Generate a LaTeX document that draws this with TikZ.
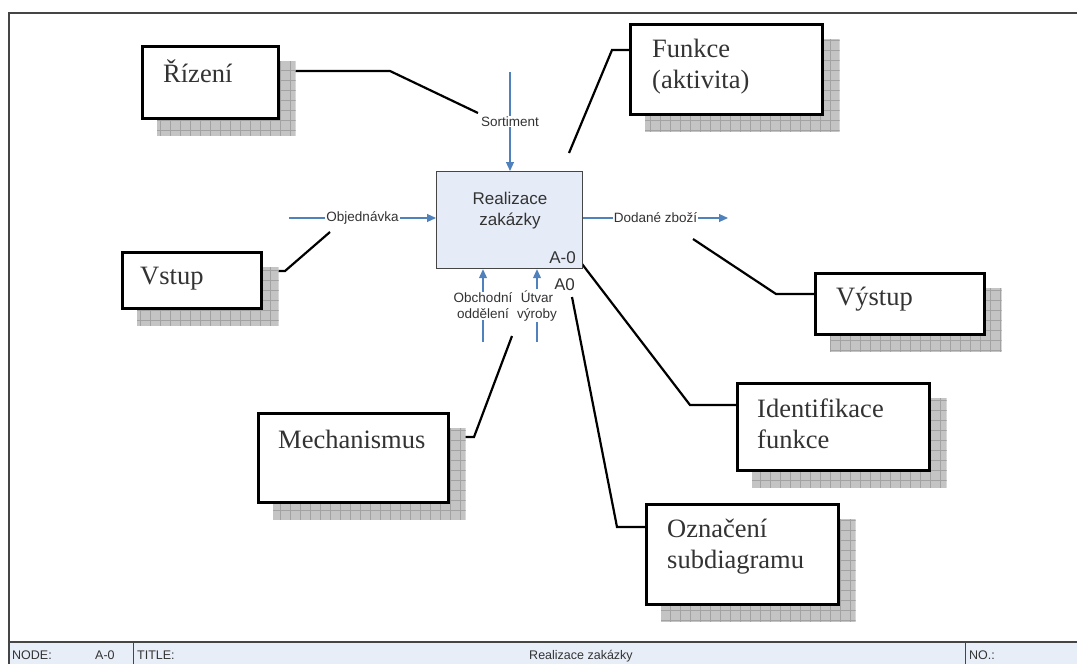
\documentclass[tikz,border=0pt]{standalone}
\usepackage{fontspec}
\setmainfont{Liberation Serif}
\setsansfont{Liberation Sans}
\usetikzlibrary{arrows.meta,calc,backgrounds}
\pgfdeclarelayer{leaders}
\pgfdeclarelayer{shade}
\pgfsetlayers{leaders,shade,main}

\definecolor{flowblue}{HTML}{4F81BD}
\definecolor{inkgray}{HTML}{333333}
\definecolor{actfill}{HTML}{E6ECF7}
\definecolor{barfill}{HTML}{E8EEF8}
\definecolor{framegray}{HTML}{454545}
\definecolor{shadefill}{HTML}{C4C4C4}
\definecolor{shadeline}{HTML}{A2A2A2}

% hatched drop shade behind a callout box
\newcommand\castshade[1]{%
  \begin{pgfonlayer}{shade}
    \begin{scope}
      \clip ($(#1.south west)+(16,16)$) rectangle ($(#1.north east)+(16,16)$);
      \fill[shadefill] ($(#1.south west)+(16,16)$) rectangle ($(#1.north east)+(16,16)$);
      \draw[shadeline, line width=0.5pt, step=10pt]
        ($(#1.south west)+(16,16)$) grid ($(#1.north east)+(16,16)$);
    \end{scope}
  \end{pgfonlayer}}

\begin{document}
\begin{tikzpicture}[x=1pt, y=-1pt,
  callbox/.style={draw=black, line width=2.6pt, fill=white, inner sep=0pt, anchor=north west},
  calltext/.style={anchor=base west, inner sep=0pt, align=left, text=inkgray,
                   font=\fontsize{26.5}{31}\selectfont},
  actbox/.style={draw=framegray, line width=1.2pt, fill=actfill, inner sep=0pt, anchor=north west},
  acttext/.style={inner sep=0pt, text=inkgray, font=\sffamily\fontsize{17}{21}\selectfont},
  flow/.style={draw=flowblue, line width=1.1pt, -{Triangle[length=9pt,width=8pt]}},
  flowlabel/.style={fill=white, inner sep=1pt, align=center, text=inkgray,
                    font=\sffamily\fontsize{13.5}{16}\selectfont},
  leader/.style={draw=black, line width=2.2pt},
  bartext/.style={inner sep=0pt, text=inkgray, font=\sffamily\fontsize{12.5}{14}\selectfont},
  frameline/.style={draw=framegray, line width=1.4pt}
]
\useasboundingbox (0,0) rectangle (1077,664);

% sheet frame and title bar
\fill[barfill] (9,642) rectangle (1077,664);
\draw[frameline] (9,664) -- (9,13) -- (1077,13);
\draw[framegray, line width=1.8pt] (9,642) -- (1077,642);
\draw[framegray, line width=1pt] (133,642) -- (133,664);
\draw[framegray, line width=1pt] (965,642) -- (965,664);
\node[bartext, anchor=base west] (barNode) at (12,659) {NODE:};
\node[bartext, anchor=base west] (barNodeVal) at (95,659) {A-0};
\node[bartext, anchor=base west] (barTitle) at (137,659) {TITLE:};
\node[bartext, anchor=base] (barTitleVal) at (581,659) {Realizace zakázky};
\node[bartext, anchor=base west] (barNo) at (969,659) {NO.:};

% activity box
\node[actbox, minimum width=146pt, minimum height=97pt] (act) at (436,171) {};
\node[acttext, align=center] (actName) at (510,211) {Realizace\\zakázky};
\node[acttext, anchor=base east] (actNode) at (576,263) {A-0};
\node[acttext, anchor=base east] (actNum) at (575,290) {A0};

% flows
\coordinate (sortStart) at (510,72);
\coordinate (objStart) at (289,218);
\coordinate (dodEnd) at (728,218);
\coordinate (obchStart) at (483,342);
\coordinate (utvStart) at (537,342);
\draw[flow] (sortStart) -- node[flowlabel] (sortLbl) {Sortiment} (sortStart |- act.north);
\draw[flow] (objStart) -- node[flowlabel] (objLbl) {Objednávka} (objStart -| act.west);
\draw[flow] (dodEnd -| act.east) -- node[flowlabel] (dodLbl) {Dodané zboží} (dodEnd);
\draw[flow] (obchStart) -- node[flowlabel] (obchLbl) {Obchodní\\oddělení} (obchStart |- act.south);
\draw[flow] (utvStart) -- node[flowlabel] (utvLbl) {Útvar\\výroby} (utvStart |- act.south);

% callout boxes
\node[callbox, minimum width=136pt, minimum height=72pt] (riz) at (141,45) {};
\node[callbox, minimum width=192pt, minimum height=90pt] (fun) at (629,23) {};
\node[callbox, minimum width=139pt, minimum height=56pt] (vst) at (121,251) {};
\node[callbox, minimum width=169pt, minimum height=61pt] (vys) at (814,272) {};
\node[callbox, minimum width=190pt, minimum height=89pt] (mech) at (257,412) {};
\node[callbox, minimum width=192pt, minimum height=87pt] (ide) at (736,382) {};
\node[callbox, minimum width=192pt, minimum height=100pt] (ozn) at (645,503) {};

% text anchors sit on the baseline of the last line
\node[calltext] (rizTxt) at ($(riz.north west)+(22,37)$) {Řízení};
\node[calltext] (funTxt) at ($(fun.north west)+(23,65)$) {Funkce\\(aktivita)};
\node[calltext] (vstTxt) at ($(vst.north west)+(19,33)$) {Vstup};
\node[calltext] (vysTxt) at ($(vys.north west)+(22,33)$) {Výstup};
\node[calltext] (mechTxt) at ($(mech.north west)+(21,36)$) {Mechanismus};
\node[calltext] (ideTxt) at ($(ide.north west)+(21,66)$) {Identifikace\\funkce};
\node[calltext] (oznTxt) at ($(ozn.north west)+(22,65)$) {Označení\\subdiagramu};

\castshade{riz}
\castshade{fun}
\castshade{vst}
\castshade{vys}
\castshade{mech}
\castshade{ide}
\castshade{ozn}

% leader lines from the callouts
\coordinate (rizTip) at (478,113);
\coordinate (funTip) at (569,153);
\coordinate (vstTip) at (330,232);
\coordinate (vysTip) at (693,239);
\coordinate (mechTip) at (512,336);
\coordinate (ideTip) at (579,260);
\coordinate (oznTip) at (572,297);
\begin{pgfonlayer}{leaders}
  \draw[leader] ($(riz.north east)+(0,26)$) -- (390,71) -- (rizTip);
  \draw[leader] (funTip) -- (612,50) -- ($(fun.north west)+(0,27)$);
  \draw[leader] ($(vst.north east)+(0,20)$) -- (285,271) -- (vstTip);
  \draw[leader] (vysTip) -- (776,294) -- ($(vys.north west)+(0,22)$);
  \draw[leader] ($(mech.north east)+(0,25)$) -- (474,437) -- (mechTip);
  \draw[leader] (ideTip) -- (690,405) -- ($(ide.north west)+(0,23)$);
  \draw[leader] (oznTip) -- (617,527) -- ($(ozn.north west)+(0,24)$);
\end{pgfonlayer}
\end{tikzpicture}
\end{document}
